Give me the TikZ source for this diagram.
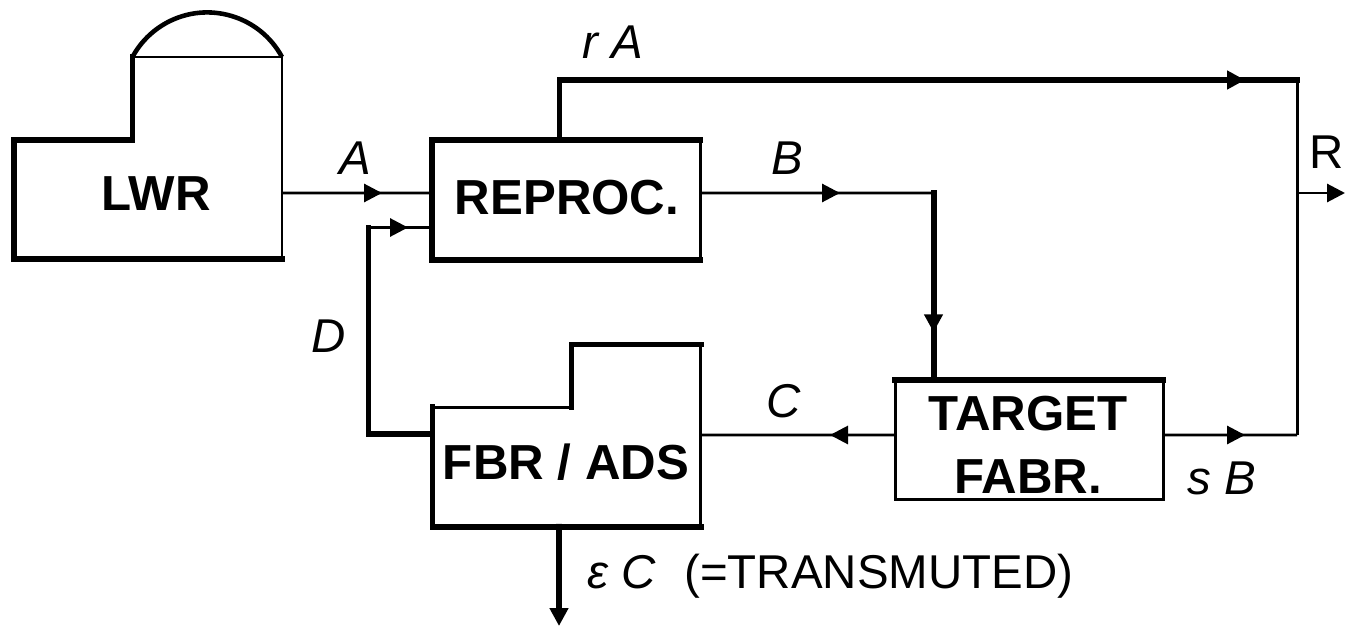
\documentclass[tikz,border=0pt]{standalone}
\usepackage{fontspec}
\setmainfont{Liberation Sans}
\usetikzlibrary{arrows.meta,decorations.markings}

\tikzset{
  flowline/.style={line width=0.85pt},
  heavyline/.style={line width=1.7pt, line cap=rect},
  domeline/.style={line width=1.3pt},
  unit/.style={minimum width=26.8mm, minimum height=11.95mm, inner sep=0pt, outer sep=0pt},
  unitname/.style={font=\fontsize{14}{18}\selectfont\bfseries, align=center, inner sep=0pt},
  stream/.style={font=\fontsize{13.5}{16}\selectfont\itshape, inner sep=0pt},
  midarrow/.style={postaction={decorate}, decoration={markings,
      mark=at position #1 with {\arrow{Triangle[length=1.8mm,width=1.8mm]}}}},
  endarrow/.style={-{Triangle[length=1.8mm,width=1.8mm]}},
}

\begin{document}
\begin{tikzpicture}
  \useasboundingbox (0,0) rectangle (13.46,6.29);

  % units
  \node[unit] (LWR) at (1.48,4.295) {};
  \node[unit] (REPROC) at (5.66,4.29) {};
  \node[unit] (FBR) at (5.665,1.62) {};
  \node[unit] (TARGET) at (10.29,1.89) {};

  \coordinate (ltop) at (1.325,5.72);
  \coordinate (fstep) at (5.715,2.845);

  % LWR with dome
  \draw[flowline] (LWR.south east) -- (ltop -| LWR.east) -- (ltop);
  \draw[heavyline] (LWR.south east) -- (LWR.south west) -- (LWR.north west) -- (ltop |- LWR.north) -- (ltop);
  \draw[domeline] (ltop -| LWR.east) arc[start angle=28.4, end angle=151.6, radius=0.85];

  % REPROC.
  \draw[flowline] (REPROC.north east) -- (REPROC.south east);
  \draw[heavyline] (REPROC.north east) -- (REPROC.north west) -- (REPROC.south west) -- (REPROC.south east);

  % FBR / ADS
  \draw[flowline] (FBR.north west) -- (fstep |- FBR.north);
  \draw[heavyline] (fstep |- FBR.north) -- (fstep) -- (fstep -| FBR.east);
  \draw[flowline] (fstep -| FBR.east) -- (FBR.south east);
  \draw[heavyline] (FBR.north west) -- (FBR.south west) -- (FBR.south east);

  % TARGET FABR.
  \draw[flowline] (TARGET.north east) -- (TARGET.south east) -- (TARGET.south west) -- (TARGET.north west);
  \draw[heavyline] (TARGET.north west) -- (TARGET.north east);

  \node[unitname] (lwrName) at (1.56,4.35) {LWR};
  \node[unitname] (reprocName) at (5.67,4.31) {REPROC.};
  \node[unitname] (fbrName) at (5.66,1.67) {FBR / ADS};
  \node[unitname] (targetName) at (10.28,1.84) {TARGET\\FABR.};

  % streams
  \coordinate (rcorner) at (12.97,5.49);
  \coordinate (sbcorner) at (12.97,1.94);
  \coordinate (rtap) at (12.97,4.36);
  \coordinate (rout) at (13.45,4.36);
  \coordinate (bcorner) at (9.335,4.36);
  \coordinate (dcorner) at (3.685,4.015);
  \coordinate (eout) at (5.59,0.03);

  \draw[flowline, midarrow=10mm] ([yshift=0.65mm]LWR.east) -- ([yshift=0.7mm]REPROC.west);
  \draw[heavyline, midarrow=-5.2mm] ([xshift=-0.65mm]REPROC.north) |- (rcorner);
  \draw[flowline] (rcorner) -- (sbcorner);
  \draw[flowline, endarrow] (rtap) -- (rout);
  \draw[flowline, midarrow=14mm] ([yshift=0.7mm]REPROC.east) -- (bcorner);
  \draw[heavyline, midarrow=-4.8mm] (bcorner) -- (bcorner |- TARGET.north);
  \draw[flowline, midarrow=8.2mm] ([yshift=0.5mm]TARGET.east) -- (sbcorner);
  \draw[flowline, midarrow=6.5mm] ([yshift=0.5mm]TARGET.west) -- ([yshift=3.2mm]FBR.east);
  \draw[heavyline] ([yshift=3.3mm]FBR.west) -| (dcorner);
  \draw[flowline, midarrow=-2.4mm] (dcorner) -- (dcorner -| REPROC.west);
  \draw[heavyline, endarrow] ([xshift=-0.75mm]FBR.south) -- (eout);

  % labels
  \node[stream] (aLabel) at (3.55,4.71) {A};
  \node[stream] (raLabel) at (6.13,5.87) {r A};
  \node[stream] (bLabel) at (7.87,4.71) {B};
  \node[stream, anchor=east] (rLabel) at (13.44,4.77) {\upshape R};
  \node[stream] (dLabel) at (3.29,2.93) {D};
  \node[stream] (cLabel) at (7.84,2.28) {C};
  \node[stream] (sbLabel) at (12.22,1.51) {s B};
  \node[stream, anchor=west] (ecLabel) at (5.87,0.53) {ε C\hspace{0.6em}\upshape(=TRANSMUTED)};
\end{tikzpicture}
\end{document}
